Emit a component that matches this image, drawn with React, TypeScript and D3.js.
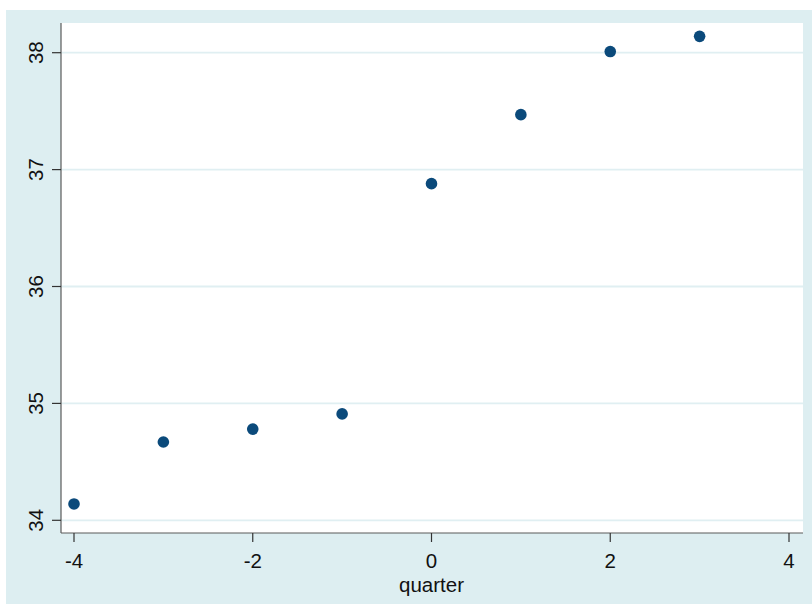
import React from "react";
import * as d3 from "d3";

const quarters = [-4, -3, -2, -1, 0, 1, 2, 3];
const values = [34.14, 34.67, 34.78, 34.91, 36.88, 37.47, 38.01, 38.14];
const xTicks = [-4, -2, 0, 2, 4];
const yTicks = [34, 35, 36, 37, 38];
const xLabel = "quarter";

const W = 812;
const H = 604;
const plot = { left: 61, right: 803, top: 23, bottom: 533 };
const font = "'Liberation Sans', Arial, Helvetica, sans-serif";

export default function App() {
  const x = d3.scaleLinear().domain([-4, 4]).range([74, 789]);
  const y = d3.scaleLinear().domain([34, 38]).range([520.3, 52.7]);
  return (
    <svg
      width={W}
      height={H}
      style={{ position: "absolute", left: 0, top: 0 }}
      fontFamily={font}
    >
      <rect x={0} y={0} width={W} height={H} fill="#ffffff" />
      <rect x={6} y={10} width={W - 6} height={H - 10} fill="#ddeef1" />
      <rect
        x={plot.left}
        y={plot.top}
        width={plot.right - plot.left}
        height={plot.bottom - plot.top}
        fill="#ffffff"
      />
      {yTicks.map((t) => (
        <line
          key={"g" + t}
          x1={plot.left}
          x2={plot.right}
          y1={y(t)}
          y2={y(t)}
          stroke="#e0eff2"
          strokeWidth={1.8}
        />
      ))}
      {/* axes */}
      <line x1={plot.left} x2={plot.left} y1={plot.top} y2={plot.bottom} stroke="#5a5a5a" strokeWidth={1.2} />
      <line x1={plot.left} x2={plot.right} y1={plot.bottom} y2={plot.bottom} stroke="#5a5a5a" strokeWidth={1.2} />
      {yTicks.map((t) => (
        <g key={"y" + t}>
          <line x1={plot.left - 9} x2={plot.left} y1={y(t)} y2={y(t)} stroke="#333" strokeWidth={1.2} />
          <text
            transform={`translate(42.5,${y(t)}) rotate(-90)`}
            textAnchor="middle"
            fontSize={20.5}
            fill="#111"
          >
            {t}
          </text>
        </g>
      ))}
      {xTicks.map((t) => (
        <g key={"x" + t}>
          <line x1={x(t)} x2={x(t)} y1={plot.bottom} y2={plot.bottom + 9} stroke="#333" strokeWidth={1.2} />
          <text x={x(t)} y={568} textAnchor="middle" fontSize={20.5} fill="#111">
            {t}
          </text>
        </g>
      ))}
      <text x={x(0)} y={592} textAnchor="middle" fontSize={20.5} fill="#111">
        {xLabel}
      </text>
      {quarters.map((q, i) => (
        <circle key={"p" + q} cx={x(q)} cy={y(values[i])} r={5.8} fill="#0b4a7b" />
      ))}
    </svg>
  );
}
